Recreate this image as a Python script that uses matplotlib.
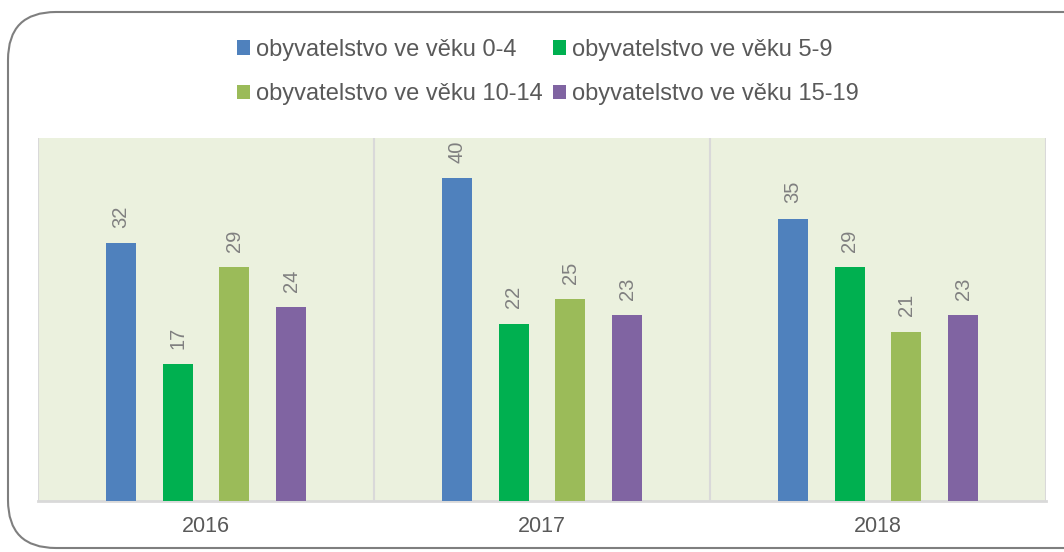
import matplotlib
matplotlib.use("Agg")
import matplotlib.pyplot as plt
from matplotlib.patches import FancyBboxPatch, Patch
import numpy as np

plt.rcParams['font.family'] = ['Liberation Sans', 'DejaVu Sans']

years = ["2016", "2017", "2018"]
series = ["obyvatelstvo ve věku 0-4", "obyvatelstvo ve věku 5-9",
          "obyvatelstvo ve věku 10-14", "obyvatelstvo ve věku 15-19"]
age_0_4 = [32, 40, 35]
age_5_9 = [17, 22, 29]
age_10_14 = [29, 25, 21]
age_15_19 = [24, 23, 23]
colors = ["#4F81BD", "#00B050", "#9BBB59", "#8064A2"]

values = [age_0_4, age_5_9, age_10_14, age_15_19]

fig = plt.figure(figsize=(10.64, 5.52), dpi=100)

# rounded outer frame
frame = FancyBboxPatch((8 / 1064, 4 / 552), 1.2, 536 / 552,
                       boxstyle="round,pad=0,rounding_size=0.045",
                       transform=fig.transFigure, facecolor="none",
                       edgecolor="#7F7F7F", linewidth=1.5, mutation_aspect=1064 / 552)
fig.patches.append(frame)

ax = fig.add_axes([38 / 1064, 51 / 552, 1008 / 1064, 363 / 552])
ax.set_facecolor("#EBF1DE")

x = np.arange(len(years))
w = 0.0893
step = 0.1696
for k, (vals, c) in enumerate(zip(values, colors)):
    pos = x + (k - 1.5) * step
    bars = ax.bar(pos, vals, width=w, color=c, zorder=3)
    for b, v in zip(bars, vals):
        ax.annotate(str(v), (b.get_x() + b.get_width() / 2, v),
                    xytext=(0, 11), textcoords="offset points",
                    rotation=90, ha="center", va="bottom",
                    color="#808080", fontsize=14.5)

for xb in [-0.5, 0.5, 1.5, 2.5]:
    ax.axvline(xb, color="#D9D9D9", linewidth=1.5, zorder=1)

ax.set_xlim(-0.5, 2.5)
ax.set_ylim(0, 45)
ax.set_yticks([])
ax.set_xticks(x)
ax.set_xticklabels(years, color="#595959", fontsize=15.5)
ax.tick_params(axis="x", length=0, pad=11)
for s in ["top", "left", "right"]:
    ax.spines[s].set_visible(False)
ax.spines["bottom"].set_color("#D9D9D9")
ax.spines["bottom"].set_linewidth(2)

# legend fills row by row like the original
handles = [Patch(facecolor=c, label=s) for s, c in zip(series, colors)]
order = [0, 2, 1, 3]
fig.legend(handles=[handles[i] for i in order], ncol=2, loc="upper center",
           bbox_to_anchor=(0.515, 0.968), frameon=False, fontsize=17,
           handlelength=0.55, handleheight=0.55, handletextpad=0.25,
           columnspacing=0.45, labelspacing=0.95, labelcolor="#595959")

fig.savefig("out.png", dpi=100)
